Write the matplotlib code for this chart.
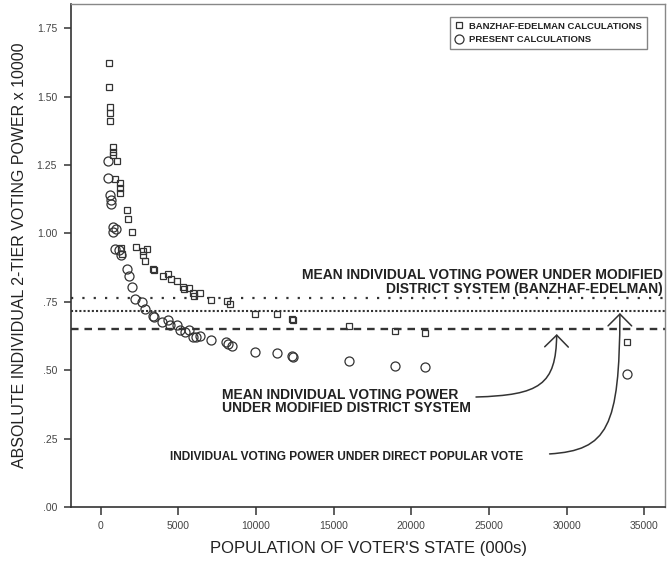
import matplotlib.pyplot as plt
from matplotlib.path import Path
from matplotlib.patches import FancyArrowPatch

plt.rcParams['font.family'] = ['Liberation Sans', 'DejaVu Sans']

# --- data (population in 000s, voting power x 10000) ---
# Banzhaf-Edelman calculations (squares)
be_pop = [530, 560, 600, 610, 620, 770, 780, 790, 1070, 920, 1240, 1250, 1260,
          1710, 1780, 1990, 1290, 1350, 2270, 2700, 2960, 2740, 2850, 3390, 3420,
          4000, 4350, 4500, 4930, 5280, 5380, 5700, 5960, 6030, 6390, 7080, 8150,
          8330, 9930, 11370, 12300, 12400, 16000, 18950, 20880, 33870]
be_power = [1.622, 1.534, 1.46, 1.44, 1.41, 1.314, 1.298, 1.286, 1.264, 1.197, 1.183,
            1.165, 1.146, 1.085, 1.051, 1.004, 0.945, 0.924, 0.949, 0.937, 0.944,
            0.921, 0.900, 0.868, 0.866, 0.844, 0.850, 0.832, 0.826, 0.805, 0.795,
            0.801, 0.781, 0.771, 0.781, 0.756, 0.753, 0.741, 0.705, 0.704, 0.687,
            0.683, 0.662, 0.643, 0.637, 0.604]

# present calculations (circles)
pc_pop = [490, 490, 600, 640, 640, 770, 980, 770, 920, 1200, 1290, 1710, 1840,
          1990, 2210, 2640, 2850, 3390, 3430, 3930, 4350, 4460, 4930, 5100, 5420,
          5700, 5960, 6130, 6390, 7080, 8070, 8220, 8430, 9930, 11370, 12300,
          12400, 16000, 18950, 20880, 33870]
pc_power = [1.264, 1.201, 1.140, 1.122, 1.107, 1.024, 1.015, 1.006, 0.941, 0.939,
            0.921, 0.868, 0.844, 0.805, 0.759, 0.748, 0.722, 0.699, 0.695, 0.677,
            0.683, 0.665, 0.665, 0.647, 0.640, 0.647, 0.622, 0.620, 0.626, 0.610,
            0.604, 0.596, 0.588, 0.567, 0.564, 0.552, 0.549, 0.535, 0.516, 0.510,
            0.485]

# reference levels
be_mean = 0.763        # mean power, modified district system (Banzhaf-Edelman)
popular_vote = 0.716   # direct popular vote
district_mean = 0.650  # mean power, modified district system (present)

xticks = [0, 5000, 10000, 15000, 20000, 25000, 30000, 35000]
yticks = [0, 0.25, 0.50, 0.75, 1.00, 1.25, 1.50, 1.75]
ytick_labels = ['.00', '.25', '.50', '.75', '1.00', '1.25', '1.50', '1.75']

ink = '#333333'

fig = plt.figure(figsize=(6.69, 5.66), dpi=100)
ax = fig.add_axes([0.1054, 0.1042, 0.8887, 0.8887])

ax.axhline(be_mean, color=ink, lw=1.6, ls=(0, (1, 4.1)), zorder=1)
ax.axhline(popular_vote, color=ink, lw=1.5, ls=(0, (1, 1)), zorder=1)
ax.axhline(district_mean, color=ink, lw=1.7, ls=(0, (3.2, 2.5)), zorder=1)

ax.plot(be_pop, be_power, 's', ms=4.6, mfc='none', mec=ink, mew=0.9,
        label='BANZHAF-EDELMAN CALCULATIONS', zorder=3)
ax.plot(pc_pop, pc_power, 'o', ms=6.5, mfc='none', mec=ink, mew=0.9,
        label='PRESENT CALCULATIONS', zorder=3)

ax.set_xlim(-1945, 36340)
ax.set_ylim(0, 1.838)
ax.set_xticks(xticks)
ax.set_xticklabels([str(v) for v in xticks])
ax.set_yticks(yticks)
ax.set_yticklabels(ytick_labels)
ax.tick_params(direction='out', length=5.4, width=1.1, color=ink,
               labelsize=7.5, labelcolor='#444444')
ax.tick_params(axis='y', pad=4.3)
ax.tick_params(axis='x', pad=5)

for side in ['left', 'bottom']:
    ax.spines[side].set_color(ink)
    ax.spines[side].set_linewidth(1.2)
for side in ['top', 'right']:
    ax.spines[side].set_color('#888888')
    ax.spines[side].set_linewidth(1.0)

fig.text(20 / 669, 1 - 255.5 / 566, 'ABSOLUTE INDIVIDUAL 2-TIER VOTING POWER x 10000',
         rotation=90, ha='center', va='center', fontsize=11.5, color='#222222')
fig.text(368 / 669, 1 - 548 / 566, "POPULATION OF VOTER'S STATE (000s)",
         ha='center', va='center', fontsize=12, color='#222222')

leg = ax.legend(loc='upper right', bbox_to_anchor=(647 / 669, 1 - 17 / 566),
                bbox_transform=fig.transFigure, borderaxespad=0, fancybox=False,
                prop={'size': 6.8, 'weight': 'bold'}, handlelength=0.9,
                handletextpad=0.7, labelspacing=0.5, borderpad=0.5)
leg.get_frame().set_edgecolor('#666666')
leg.get_frame().set_linewidth(1.0)
for t in leg.get_texts():
    t.set_color('#222222')

note = dict(fontweight='bold', color='#222222', va='center')
ax.text(36200, 0.8477, 'MEAN INDIVIDUAL VOTING POWER UNDER MODIFIED', ha='right',
        fontsize=10, **note)
ax.text(36200, 0.7965, 'DISTRICT SYSTEM (BANZHAF-EDELMAN)', ha='right', fontsize=10, **note)
ax.text(7800, 0.409, 'MEAN INDIVIDUAL VOTING POWER', ha='left', fontsize=10, **note)
ax.text(7800, 0.362, 'UNDER MODIFIED DISTRICT SYSTEM', ha='left', fontsize=10, **note)
ax.text(27190, 0.184, 'INDIVIDUAL VOTING POWER UNDER DIRECT POPULAR VOTE', ha='right',
        fontsize=8.6, **note)

codes = [Path.MOVETO, Path.CURVE4, Path.CURVE4, Path.CURVE4]
arrow_paths = [
    [(24166, 0.402), (28287, 0.409), (29317, 0.446), (29362, 0.632)],
    [(28905, 0.194), (32640, 0.208), (33413, 0.289), (33432, 0.709)],
]
for verts in arrow_paths:
    arr = FancyArrowPatch(path=Path(verts, codes),
                          arrowstyle='->,head_length=8.5,head_width=8.5',
                          mutation_scale=1, color=ink, lw=1.1)
    ax.add_patch(arr)

fig.savefig('out.png', dpi=100)
